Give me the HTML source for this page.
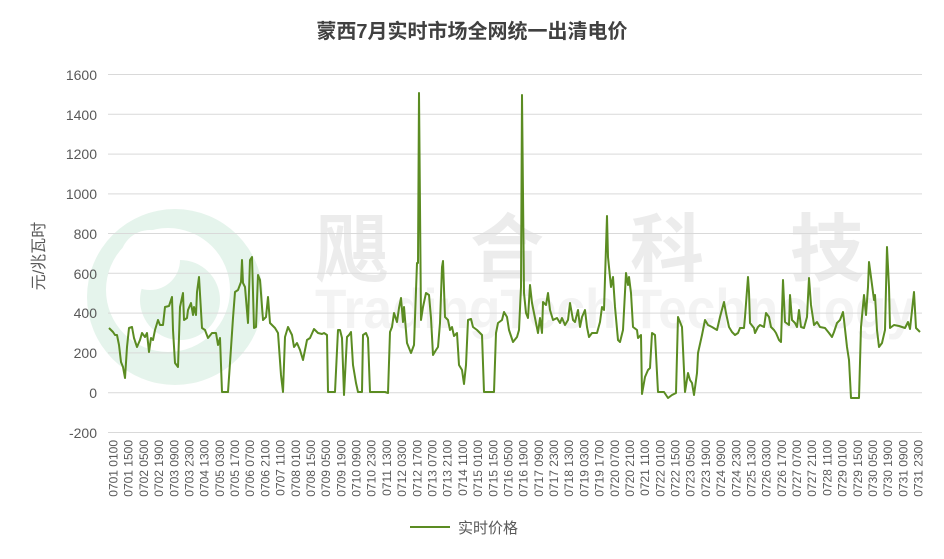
<!DOCTYPE html>
<html><head><meta charset="utf-8"><style>
body{margin:0;background:#fff;}
svg{display:block;font-family:"Liberation Sans","Noto Sans CJK SC",sans-serif;}
</style></head><body>
<svg width="944" height="559" viewBox="0 0 944 559" xmlns="http://www.w3.org/2000/svg">
<rect width="944" height="559" fill="#fff"/>
<g opacity="0.9">
<circle cx="175" cy="297" r="88" fill="#e3f3ea"/>
<circle cx="168" cy="290" r="62" fill="#fff"/>
<circle cx="180" cy="300" r="40" fill="#e3f3ea"/>
<circle cx="150" cy="260" r="30" fill="#fff"/>
</g>
<g fill="#ececec" font-weight="bold" font-size="74" font-family="'Noto Sans CJK SC',sans-serif">
<text x="315" y="275">飓</text><text x="470" y="275">合</text><text x="630" y="275">科</text><text x="790" y="275">技</text>
</g>
<text x="315" y="328" fill="#f3f3f3" font-size="56" font-weight="bold" textLength="600" lengthAdjust="spacingAndGlyphs">TradingTech Technology</text>
<g stroke="#d9d9d9" stroke-width="1">
<line x1="108" x2="922" y1="74.5" y2="74.5"/><line x1="108" x2="922" y1="114.3" y2="114.3"/>
<line x1="108" x2="922" y1="154.1" y2="154.1"/><line x1="108" x2="922" y1="193.9" y2="193.9"/>
<line x1="108" x2="922" y1="233.5" y2="233.5"/><line x1="108" x2="922" y1="273.3" y2="273.3"/>
<line x1="108" x2="922" y1="313.1" y2="313.1"/><line x1="108" x2="922" y1="352.9" y2="352.9"/>
<line x1="108" x2="922" y1="392.7" y2="392.7"/><line x1="108" x2="922" y1="432.5" y2="432.5"/>
</g>
<g fill="#595959" font-size="14" text-anchor="end">
<text x="97" y="80">1600</text><text x="97" y="120">1400</text><text x="97" y="159">1200</text>
<text x="97" y="199">1000</text><text x="97" y="239">800</text><text x="97" y="279">600</text>
<text x="97" y="318">400</text><text x="97" y="358">200</text><text x="97" y="398">0</text>
<text x="97" y="438">-200</text>
</g>
<text x="472" y="38" text-anchor="middle" font-size="20" font-weight="bold" fill="#404040">蒙西7月实时市场全网统一出清电价</text>
<text transform="translate(44,256) rotate(-90)" text-anchor="middle" font-size="16" fill="#595959">元/兆瓦时</text>
<polyline fill="none" stroke="#5b8c22" stroke-width="2" stroke-linejoin="round" points="
109,328 113,332 115,335 117,335 119,345 121,362 123,367 125,378 127,347 129,328 132,327 134,338 137,347 140,340 142,333 145,337 147,333 149,352 151,338 153,340 155,330 158,320 160,325 163,325 165,307 169,306 172,297 173,330 175,363 178,367 180,307 183,293 184,320 187,318 188,310 191,303 193,315 194,307 196,315 197,292 199,277 202,328 205,330 208,338 212,333 216,333 218,345 220,338 222,392 228,392 230,363 233,318 235,292 238,290 241,282 242,260 243,283 245,287 248,323 250,260 252,257 254,328 256,327 258,275 260,280 263,320 266,317 268,297 270,323 275,328 278,333 281,375 283,392 285,337 288,327 292,335 294,347 297,343 300,350 303,360 307,340 310,338 314,329 318,333 322,334 324,333 327,335 328,392 335,392 338,330 340,330 342,338 344,395 347,337 349,335 351,332 353,365 356,383 358,392 362,392 363,335 366,333 368,338 370,392 382,392 385,392 388,393 390,332 392,327 394,313 397,322 399,308 401,298 403,322 404,307 407,343 411,353 414,345 417,263 418,263 419,93 421,320 423,307 426,293 429,295 431,318 433,355 436,350 438,347 440,323 442,267 443,261 445,317 448,320 450,330 452,327 454,336 457,333 459,365 462,370 464,384 466,365 468,320 471,319 473,327 477,330 482,335 484,392 494,392 496,333 498,323 502,320 504,312 507,317 509,330 513,342 517,337 519,330 521,287 522,95 524,293 526,313 528,318 530,285 532,303 535,318 538,333 540,318 542,333 543,302 546,305 548,293 550,310 553,320 557,318 560,323 562,318 565,325 568,320 570,303 573,320 575,322 578,310 580,327 582,317 585,310 587,327 589,337 592,333 597,333 600,322 602,307 604,310 607,216 608,257 611,287 613,277 615,307 618,340 620,342 623,330 626,273 628,285 629,277 631,293 633,327 637,330 638,338 641,335 642,394 645,377 648,370 650,368 652,333 655,335 658,392 664,392 668,398 672,395 676,393 678,317 682,327 685,392 688,373 690,380 692,383 694,395 697,373 698,353 702,335 705,320 708,325 712,327 717,330 720,317 724,302 726,313 729,327 732,332 735,335 738,333 740,328 744,328 745,317 748,277 749,292 750,323 754,328 755,333 758,327 760,325 764,327 766,313 769,317 771,327 774,330 776,333 779,340 781,342 783,280 785,322 789,325 790,295 792,320 795,323 797,327 799,310 801,327 804,328 807,317 809,278 811,305 814,325 817,322 820,327 825,328 829,333 832,337 834,332 837,323 840,320 843,312 844,320 847,347 849,360 851,398 855,398 859,398 861,327 864,295 866,315 868,287 869,262 871,277 874,300 875,295 877,330 879,347 882,343 885,330 887,247 889,287 890,328 894,325 899,326 902,327 905,328 908,322 910,329 914,292 916,328 920,332"/>
<g fill="#595959" font-size="12" text-anchor="end">
<text transform="translate(117.5,440) rotate(-90)">0701 0100</text>
<text transform="translate(132.7,440) rotate(-90)">0701 1500</text>
<text transform="translate(147.9,440) rotate(-90)">0702 0500</text>
<text transform="translate(163.1,440) rotate(-90)">0702 1900</text>
<text transform="translate(178.3,440) rotate(-90)">0703 0900</text>
<text transform="translate(193.5,440) rotate(-90)">0703 2300</text>
<text transform="translate(208.6,440) rotate(-90)">0704 1300</text>
<text transform="translate(223.8,440) rotate(-90)">0705 0300</text>
<text transform="translate(239.0,440) rotate(-90)">0705 1700</text>
<text transform="translate(254.2,440) rotate(-90)">0706 0700</text>
<text transform="translate(269.4,440) rotate(-90)">0706 2100</text>
<text transform="translate(284.6,440) rotate(-90)">0707 1100</text>
<text transform="translate(299.8,440) rotate(-90)">0708 0100</text>
<text transform="translate(315.0,440) rotate(-90)">0708 1500</text>
<text transform="translate(330.2,440) rotate(-90)">0709 0500</text>
<text transform="translate(345.4,440) rotate(-90)">0709 1900</text>
<text transform="translate(360.5,440) rotate(-90)">0710 0900</text>
<text transform="translate(375.7,440) rotate(-90)">0710 2300</text>
<text transform="translate(390.9,440) rotate(-90)">0711 1300</text>
<text transform="translate(406.1,440) rotate(-90)">0712 0300</text>
<text transform="translate(421.3,440) rotate(-90)">0712 1700</text>
<text transform="translate(436.5,440) rotate(-90)">0713 0700</text>
<text transform="translate(451.7,440) rotate(-90)">0713 2100</text>
<text transform="translate(466.9,440) rotate(-90)">0714 1100</text>
<text transform="translate(482.1,440) rotate(-90)">0715 0100</text>
<text transform="translate(497.3,440) rotate(-90)">0715 1500</text>
<text transform="translate(512.4,440) rotate(-90)">0716 0500</text>
<text transform="translate(527.6,440) rotate(-90)">0716 1900</text>
<text transform="translate(542.8,440) rotate(-90)">0717 0900</text>
<text transform="translate(558.0,440) rotate(-90)">0717 2300</text>
<text transform="translate(573.2,440) rotate(-90)">0718 1300</text>
<text transform="translate(588.4,440) rotate(-90)">0719 0300</text>
<text transform="translate(603.6,440) rotate(-90)">0719 1700</text>
<text transform="translate(618.8,440) rotate(-90)">0720 0700</text>
<text transform="translate(634.0,440) rotate(-90)">0720 2100</text>
<text transform="translate(649.2,440) rotate(-90)">0721 1100</text>
<text transform="translate(664.3,440) rotate(-90)">0722 0100</text>
<text transform="translate(679.5,440) rotate(-90)">0722 1500</text>
<text transform="translate(694.7,440) rotate(-90)">0723 0500</text>
<text transform="translate(709.9,440) rotate(-90)">0723 1900</text>
<text transform="translate(725.1,440) rotate(-90)">0724 0900</text>
<text transform="translate(740.3,440) rotate(-90)">0724 2300</text>
<text transform="translate(755.5,440) rotate(-90)">0725 1300</text>
<text transform="translate(770.7,440) rotate(-90)">0726 0300</text>
<text transform="translate(785.9,440) rotate(-90)">0726 1700</text>
<text transform="translate(801.1,440) rotate(-90)">0727 0700</text>
<text transform="translate(816.2,440) rotate(-90)">0727 2100</text>
<text transform="translate(831.4,440) rotate(-90)">0728 1100</text>
<text transform="translate(846.6,440) rotate(-90)">0729 0100</text>
<text transform="translate(861.8,440) rotate(-90)">0729 1500</text>
<text transform="translate(877.0,440) rotate(-90)">0730 0500</text>
<text transform="translate(892.2,440) rotate(-90)">0730 1900</text>
<text transform="translate(907.4,440) rotate(-90)">0731 0900</text>
<text transform="translate(922.6,440) rotate(-90)">0731 2300</text>
</g>
<line x1="410" x2="450" y1="527" y2="527" stroke="#5b8c22" stroke-width="2"/>
<text x="458" y="533" font-size="15" fill="#595959">实时价格</text>
</svg>
</body></html>
